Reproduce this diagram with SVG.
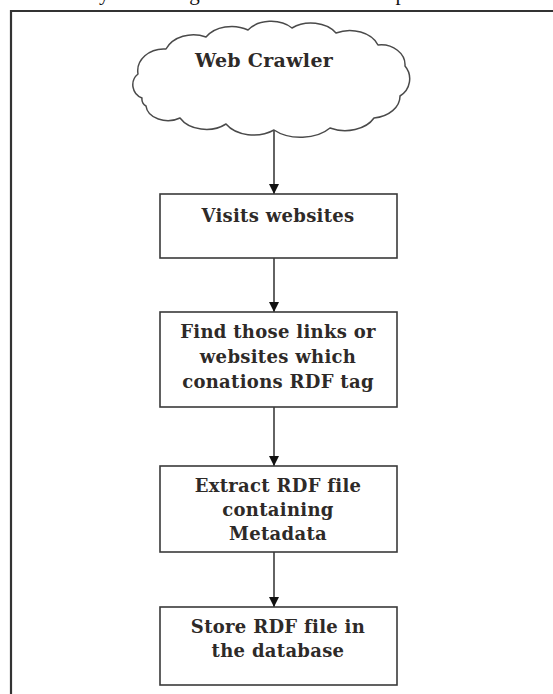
<svg xmlns="http://www.w3.org/2000/svg" width="553" height="694" viewBox="0 0 553 694">
  <style>
    .frame { fill: none; stroke: #333; stroke-width: 2.2; }
    .box { fill: #fff; stroke: #3a3a3a; stroke-width: 1.6; }
    .cloud { fill: #fff; stroke: #4a4a4a; stroke-width: 1.5; stroke-linejoin: round; }
    .label { font-family: "DejaVu Serif", "Liberation Serif", serif; font-size: 18px; letter-spacing: 0.3px; font-weight: bold; fill: #2e2a28; text-anchor: middle; }
    .body { font-family: "Liberation Serif", serif; font-size: 21px; fill: #111; }
    .conn { stroke: #222; stroke-width: 1.4; fill: none; marker-end: url(#arrow); }
  </style>
  <defs>
    <marker id="arrow" viewBox="0 0 10 10" refX="10" refY="5" markerWidth="10" markerHeight="10" markerUnits="userSpaceOnUse" orient="auto">
      <path d="M0,0 L10,5 L0,10 Z" fill="#111"/>
    </marker>
  </defs>
  <rect width="553" height="694" fill="#fff"/>

  <!-- running text of the page above the figure -->
  <text class="body" x="78" y="0" word-spacing="6">ally the integrated web crawler implemented</text>

  <!-- figure frame -->
  <path class="frame" d="M11,700 V11 H560"/>

  <g id="connectors">
    <line class="conn" x1="274" y1="130" x2="274" y2="194"/>
    <line class="conn" x1="274" y1="258" x2="274" y2="312"/>
    <line class="conn" x1="274" y1="407" x2="274" y2="466"/>
    <line class="conn" x1="274" y1="552" x2="274" y2="607"/>
  </g>

  <g id="web-crawler">
    <path class="cloud" d="M142,98 A14,14 0 0 1 138,74 A26,22 0 0 1 166,49 A30,24 0 0 1 206,37 A30,22 0 0 1 248,30 A28,20 0 0 1 292,28 A30,22 0 0 1 336,33 A30,22 0 0 1 378,45 A24,20 0 0 1 405,66 A20,20 0 0 1 400,96 A30,22 0 0 1 374,118 A32,22 0 0 1 330,128 A36,22 0 0 1 274,130 A32,22 0 0 1 226,124 A30,22 0 0 1 180,118 A22,16 0 0 1 146,106 A8,8 0 0 1 142,98 Z"/>
    <text class="label" x="264" y="67" style="font-size:19px">Web Crawler</text>
  </g>

  <g id="visits-websites">
    <rect class="box" x="160" y="194" width="237" height="64"/>
    <text class="label" x="278" y="222">Visits websites</text>
  </g>

  <g id="find-links">
    <rect class="box" x="160" y="312" width="237" height="95"/>
    <text class="label" x="278" y="338">Find those links or</text>
    <text class="label" x="278" y="363">websites which</text>
    <text class="label" x="278" y="388">conations RDF tag</text>
  </g>

  <g id="extract-rdf">
    <rect class="box" x="160" y="466" width="237" height="86"/>
    <text class="label" x="278" y="492">Extract RDF file</text>
    <text class="label" x="278" y="516">containing</text>
    <text class="label" x="278" y="540">Metadata</text>
  </g>

  <g id="store-rdf">
    <rect class="box" x="160" y="607" width="237" height="78"/>
    <text class="label" x="278" y="633">Store RDF file in</text>
    <text class="label" x="278" y="657">the database</text>
  </g>
</svg>
